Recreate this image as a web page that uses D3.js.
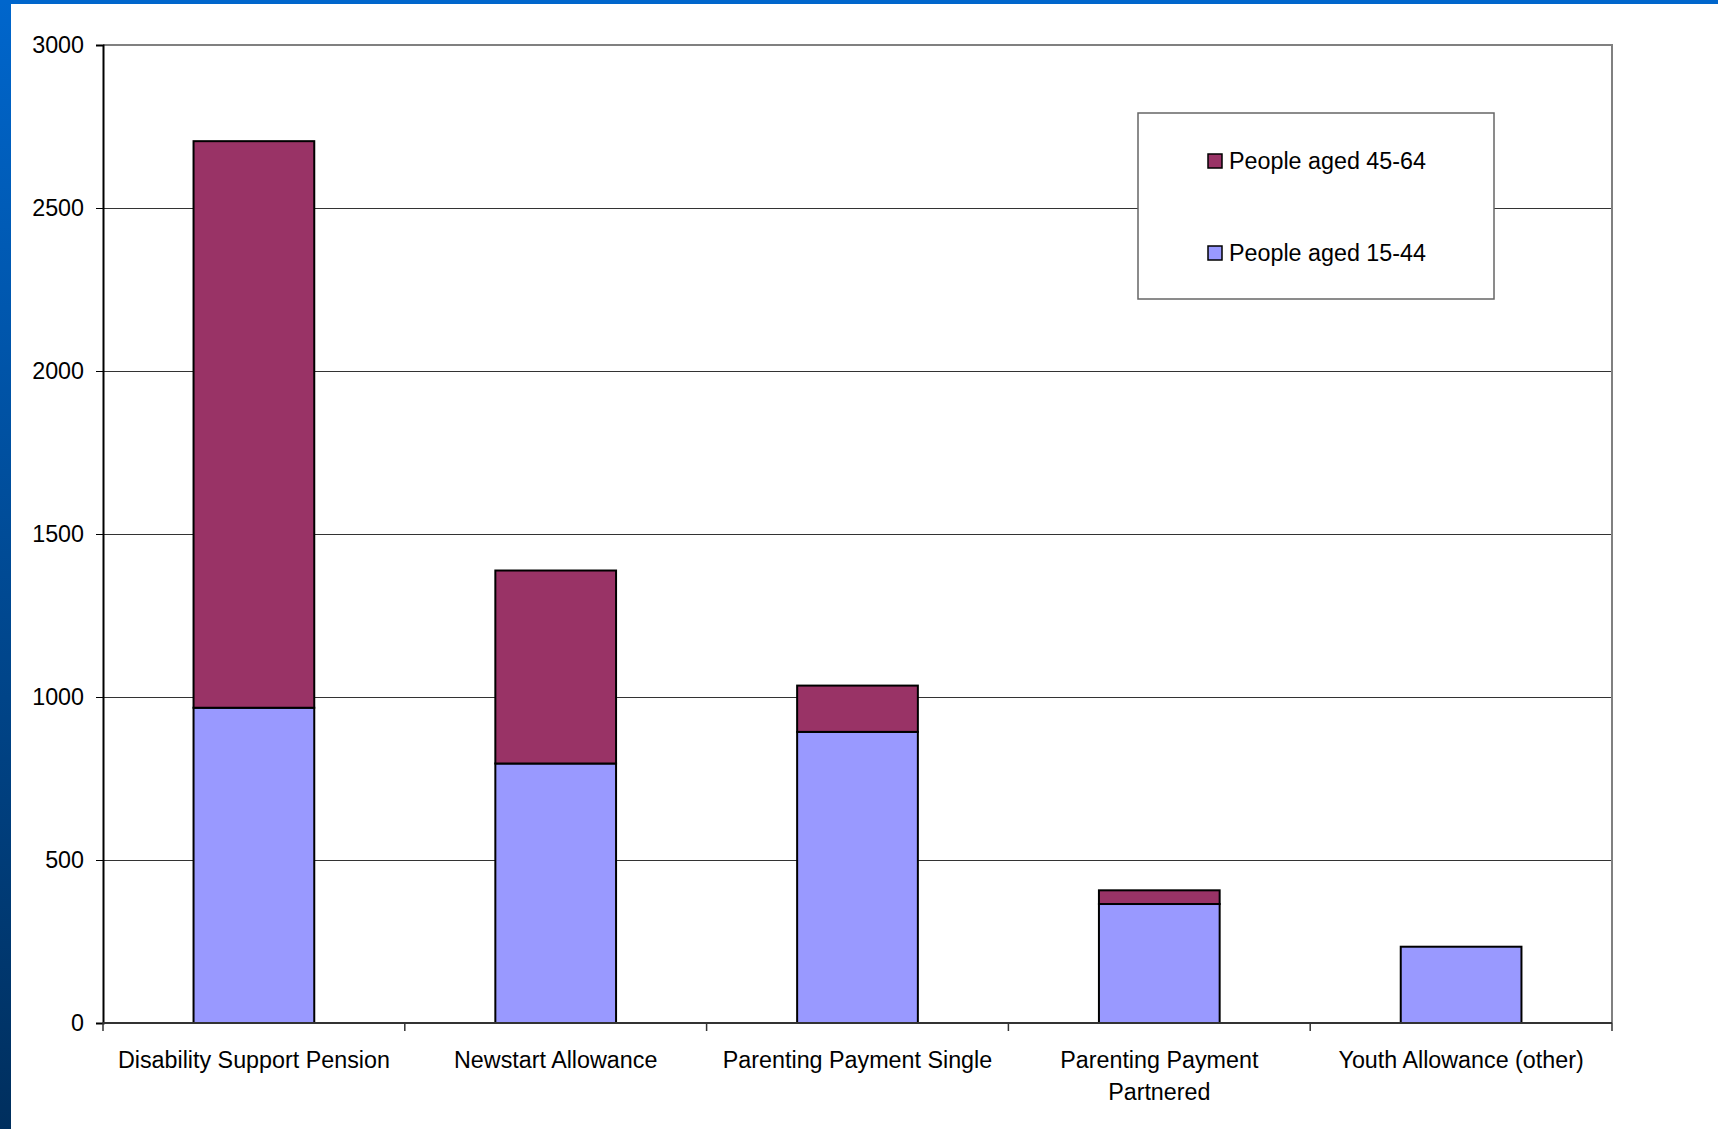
<!DOCTYPE html>
<html>
<head>
<meta charset="utf-8">
<script src="https://cdn.jsdelivr.net/npm/d3@7"></script>
<style>
  body { margin: 0; background: #fff; }
  svg { display: block; }
</style>
</head>
<body>
<svg id="chart"></svg>
<script>
// Data
const categories = ["Disability Support Pension", "Newstart Allowance", "Parenting Payment Single", "Parenting Payment Partnered", "Youth Allowance (other)"];
const aged15to44 = [967, 796, 893, 365, 234];
const aged45to64 = [1738, 592, 142, 42, 0];
const seriesNames = ["People aged 15-44", "People aged 45-64"];
const seriesColors = ["#9999ff", "#993366"];
const yTicks = [0, 500, 1000, 1500, 2000, 2500, 3000];

const width = 1718, height = 1129;
const margin = { top: 45, right: 106, bottom: 106, left: 103 };
const fontFamily = "'Liberation Sans', Arial, sans-serif";

const svg = d3.select("#chart")
    .attr("width", width)
    .attr("height", height);

// Slide decoration: blue gradient bar on the left and a thin bar on top
const defs = svg.append("defs");
const grad = defs.append("linearGradient")
    .attr("id", "sideGrad")
    .attr("x1", 0).attr("y1", 0).attr("x2", 0).attr("y2", 1);
grad.append("stop").attr("offset", "0%").attr("stop-color", "#0066cc");
grad.append("stop").attr("offset", "100%").attr("stop-color", "#002f5e");

svg.append("rect")
    .attr("x", 0).attr("y", 0)
    .attr("width", 11).attr("height", height)
    .attr("fill", "url(#sideGrad)");
svg.append("rect")
    .attr("x", 0).attr("y", 0)
    .attr("width", width).attr("height", 4)
    .attr("fill", "#0066cc");

// Scales
const xScale = d3.scaleBand()
    .domain(categories)
    .range([margin.left, width - margin.right])
    .paddingInner(0.6)
    .paddingOuter(0.3);

const yScale = d3.scaleLinear()
    .domain([0, 3000])
    .range([height - margin.bottom, margin.top]);

// Stack the two series
const rows = categories.map((c, i) => ({ category: c, a: aged15to44[i], b: aged45to64[i] }));
const stack = d3.stack().keys(["a", "b"]);
const stacked = stack(rows);

// Gridlines
svg.append("g")
    .selectAll("line")
    .data(yTicks.filter(t => t > 0 && t < 3000))
    .join("line")
    .attr("x1", margin.left)
    .attr("x2", width - margin.right)
    .attr("y1", d => yScale(d) + 0.5)
    .attr("y2", d => yScale(d) + 0.5)
    .attr("stroke", "#333")
    .attr("stroke-width", 1);

// Plot frame (top and right)
svg.append("path")
    .attr("d", `M${margin.left},${margin.top}H${width - margin.right}V${height - margin.bottom}`)
    .attr("fill", "none")
    .attr("stroke", "#808080")
    .attr("stroke-width", 2);

// Legend box (sits on top of the 2500 gridline)
const legend = svg.append("g");
legend.append("rect")
    .attr("x", 1138).attr("y", 113)
    .attr("width", 356).attr("height", 186)
    .attr("fill", "#fff")
    .attr("stroke", "#666")
    .attr("stroke-width", 1.5);

const legendItems = [
    { name: seriesNames[1], color: seriesColors[1], y: 161 },
    { name: seriesNames[0], color: seriesColors[0], y: 253 }
];
legendItems.forEach(item => {
    legend.append("rect")
        .attr("x", 1208).attr("y", item.y - 7)
        .attr("width", 14).attr("height", 14)
        .attr("fill", item.color)
        .attr("stroke", "#000")
        .attr("stroke-width", 1.5);
    legend.append("text")
        .attr("x", 1229)
        .attr("y", item.y)
        .attr("dy", "0.36em")
        .style("font-family", fontFamily)
        .style("font-size", "23.3px")
        .attr("fill", "#000")
        .text(item.name);
});

// Bars
svg.append("g")
    .selectAll("g")
    .data(stacked)
    .join("g")
    .attr("fill", (d, i) => seriesColors[i])
    .selectAll("rect")
    .data(d => d.filter(s => s[1] - s[0] > 0))
    .join("rect")
    .attr("x", d => xScale(d.data.category))
    .attr("y", d => yScale(d[1]))
    .attr("width", xScale.bandwidth())
    .attr("height", d => yScale(d[0]) - yScale(d[1]))
    .attr("stroke", "#000")
    .attr("stroke-width", 2);

// Y axis
const yAxis = svg.append("g")
    .attr("transform", `translate(${margin.left}, 0)`)
    .call(d3.axisLeft(yScale).tickValues(yTicks).tickSize(7).tickPadding(12).tickFormat(d3.format("d")));
yAxis.select(".domain").attr("stroke", "#000").attr("stroke-width", 2);
yAxis.selectAll(".tick line").attr("stroke", "#000");
yAxis.selectAll("text")
    .style("font-family", fontFamily)
    .style("font-size", "23.3px")
    .attr("fill", "#000");

// X axis: ticks on the category boundaries
const step = xScale.step();
const boundaries = d3.range(categories.length + 1).map(i => margin.left + i * step);
const xAxisG = svg.append("g");
xAxisG.append("line")
    .attr("x1", margin.left).attr("x2", width - margin.right)
    .attr("y1", yScale(0)).attr("y2", yScale(0))
    .attr("stroke", "#333")
    .attr("stroke-width", 2);
xAxisG.selectAll(".btick")
    .data(boundaries)
    .join("line")
    .attr("class", "btick")
    .attr("x1", d => d).attr("x2", d => d)
    .attr("y1", yScale(0)).attr("y2", yScale(0) + 8)
    .attr("stroke", "#333")
    .attr("stroke-width", 1.5);

// Category labels (wrap the long one onto two lines)
const labelLines = {
    "Parenting Payment Partnered": ["Parenting Payment", "Partnered"]
};
categories.forEach(c => {
    const lines = labelLines[c] || [c];
    const t = svg.append("text")
        .attr("x", xScale(c) + xScale.bandwidth() / 2)
        .attr("y", yScale(0) + 45)
        .attr("text-anchor", "middle")
        .style("font-family", fontFamily)
        .style("font-size", "23.3px")
        .attr("fill", "#000");
    lines.forEach((line, i) => {
        t.append("tspan")
            .attr("x", xScale(c) + xScale.bandwidth() / 2)
            .attr("dy", i === 0 ? 0 : 32)
            .text(line);
    });
});
</script>
</body>
</html>
